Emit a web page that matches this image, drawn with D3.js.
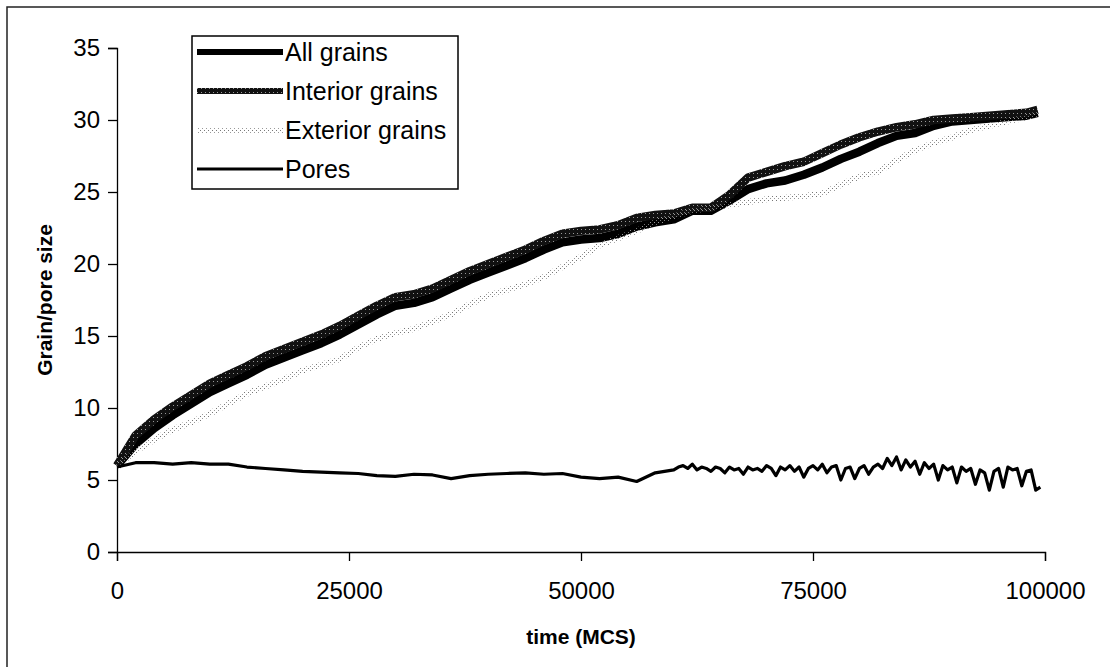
<!DOCTYPE html>
<html>
<head>
<meta charset="utf-8">
<script src="https://cdn.jsdelivr.net/npm/d3@7"></script>
<style>
  body { margin: 0; background: #fff; }
  svg { display: block; font-family: "Liberation Sans", Arial, sans-serif; }
  .axis path, .axis line { stroke: #000; stroke-width: 1.3; }
  .axis text { font-size: 24px; fill: #000; }
  .title { font-size: 21px; font-weight: bold; fill: #000; }
  .legend text { font-size: 25px; fill: #000; }
</style>
</head>
<body>
<div id="chart"></div>
<script>
'use strict';

// sample times (MCS)
const grainTime = d3.range(0, 99000, 2000).concat([99200]);
const poreTime = d3.range(0, 60000, 2000).concat(d3.range(60000, 100000, 500));

// mean sizes
const allGrains = [
  6.0, 7.5, 8.6, 9.5, 10.3, 11.1, 11.7, 12.3, 13.0, 13.5,
  14.0, 14.5, 15.1, 15.8, 16.5, 17.1, 17.3, 17.7, 18.3, 18.9,
  19.4, 19.9, 20.4, 21.0, 21.5, 21.7, 21.8, 22.1, 22.6, 22.9,
  23.1, 23.7, 23.7, 24.4, 25.2, 25.6, 25.8, 26.2, 26.7, 27.3,
  27.8, 28.4, 28.9, 29.1, 29.6, 29.9, 30.0, 30.1, 30.2, 30.3,
  30.5
];
const interiorGrains = [
  6.0, 8.1, 9.2, 10.1, 10.9, 11.7, 12.3, 12.9, 13.6, 14.1,
  14.6, 15.1, 15.7, 16.4, 17.1, 17.7, 17.9, 18.3, 18.9, 19.5,
  20.0, 20.5, 21.0, 21.6, 22.1, 22.3, 22.4, 22.7, 23.2, 23.4,
  23.5, 23.9, 23.9, 24.8, 26.0, 26.4, 26.8, 27.1, 27.7, 28.3,
  28.8, 29.2, 29.5, 29.7, 30.0, 30.1, 30.2, 30.3, 30.4, 30.5,
  30.7
];
const exteriorGrains = [
  6.0, 7.0, 7.8, 8.5, 9.0, 9.6, 10.3, 11.0, 11.5, 12.0,
  12.6, 13.0, 13.4, 14.2, 14.8, 15.2, 15.5, 16.0, 16.5, 17.2,
  17.8, 18.2, 18.6, 19.1, 19.8, 20.5, 21.3, 21.8, 22.3, 22.9,
  23.3, 23.7, 23.9, 24.1, 24.3, 24.5, 24.6, 24.7, 24.9, 25.5,
  26.1, 26.4, 27.2, 27.9, 28.4, 28.8, 29.3, 29.6, 29.9, 30.2,
  30.4
];
const pores = [
  5.9, 6.2, 6.2, 6.1, 6.2, 6.1, 6.1, 5.9, 5.8, 5.7,
  5.6, 5.55, 5.5, 5.45, 5.3, 5.25, 5.4, 5.35, 5.1, 5.3,
  5.4, 5.45, 5.5, 5.4, 5.45, 5.2, 5.1, 5.2, 4.9, 5.5,
  // from 60000 every 500
  5.7, 5.9, 6.0, 5.8, 6.1, 5.7, 5.9, 5.8, 5.6, 5.9,
  5.8, 5.5, 5.9, 5.7, 5.8, 5.4, 5.9, 5.7, 5.8, 5.6,
  6.0, 5.8, 5.3, 5.9, 5.7, 6.0, 5.6, 5.9, 5.2, 5.8,
  6.0, 5.7, 6.1, 5.5, 5.9, 6.0, 5.0, 5.8, 5.9, 5.1,
  5.8, 6.0, 5.4, 5.9, 6.1, 5.8, 6.5, 6.0, 6.6, 5.7,
  6.4, 5.9, 6.3, 5.4, 6.2, 5.8, 6.1, 5.0, 6.0, 5.7,
  5.9, 4.8, 5.9, 5.6, 5.8, 4.7, 5.7, 5.5, 4.3, 5.6,
  5.8, 4.5, 5.9, 5.7, 5.8, 4.6, 5.6, 5.7, 4.3, 4.5
];

const xTicks = [0, 25000, 50000, 75000, 100000];
const yTicks = [0, 5, 10, 15, 20, 25, 30, 35];
const legendLabels = ['All grains', 'Interior grains', 'Exterior grains', 'Pores'];

const width = 1119, height = 667;
const plot = { left: 117, right: 1045, top: 48, bottom: 552 };

const svg = d3.select('#chart').append('svg')
  .attr('width', width)
  .attr('height', height);

svg.append('rect').attr('width', width).attr('height', height).attr('fill', '#fff');

// halftone-like fills for the grey series (the original is a b/w scan)
const defs = svg.append('defs');
const dark = defs.append('pattern')
  .attr('id', 'darkgrey')
  .attr('patternUnits', 'userSpaceOnUse')
  .attr('width', 4).attr('height', 4);
dark.append('rect').attr('width', 4).attr('height', 4).attr('fill', '#111');
dark.append('rect').attr('x', 1).attr('y', 1).attr('width', 1).attr('height', 1).attr('fill', '#999');

const light = defs.append('pattern')
  .attr('id', 'lightgrey')
  .attr('patternUnits', 'userSpaceOnUse')
  .attr('width', 4).attr('height', 4);
light.append('rect').attr('x', 0).attr('y', 0).attr('width', 1).attr('height', 1).attr('fill', '#777');
light.append('rect').attr('x', 2).attr('y', 2).attr('width', 1).attr('height', 1).attr('fill', '#999');

// scanned page frame (top and left edges only)
svg.append('path')
  .attr('d', 'M7,667V7H1110')
  .attr('fill', 'none')
  .attr('stroke', '#222')
  .attr('stroke-width', 1.5);

const x = d3.scaleLinear().domain([0, 100000]).range([plot.left, plot.right]);
const y = d3.scaleLinear().domain([0, 35]).range([plot.bottom, plot.top]);

svg.append('g')
  .attr('class', 'x axis')
  .attr('transform', 'translate(0,' + plot.bottom + ')')
  .call(d3.axisBottom(x).tickValues(xTicks).tickFormat(d3.format('d')).tickSize(9).tickSizeOuter(9).tickPadding(21));

svg.append('g')
  .attr('class', 'y axis')
  .attr('transform', 'translate(' + plot.left + ',0)')
  .call(d3.axisLeft(y).tickValues(yTicks).tickSize(9).tickSizeOuter(9).tickPadding(8));

svg.selectAll('.axis .domain').attr('fill', 'none');

svg.append('text')
  .attr('class', 'title')
  .attr('x', (plot.left + plot.right) / 2)
  .attr('y', 644)
  .attr('text-anchor', 'middle')
  .text('time (MCS)');

svg.append('text')
  .attr('class', 'title')
  .attr('transform', 'translate(52,' + (plot.top + plot.bottom) / 2 + ') rotate(-90)')
  .attr('text-anchor', 'middle')
  .text('Grain/pore size');

const series = [
  { name: legendLabels[0], time: grainTime, values: allGrains, stroke: '#000', width: 8.5 },
  { name: legendLabels[1], time: grainTime, values: interiorGrains, stroke: 'url(#darkgrey)', width: 8.5 },
  { name: legendLabels[2], time: grainTime, values: exteriorGrains, stroke: 'url(#lightgrey)', width: 6 },
  { name: legendLabels[3], time: poreTime, values: pores, stroke: '#000', width: 3.2 }
];

const line = d3.line()
  .x(d => x(d[0]))
  .y(d => y(d[1]));

svg.append('g').selectAll('path.series').data(series).enter()
  .append('path')
  .attr('class', 'series')
  .attr('d', s => line(d3.zip(s.time, s.values)))
  .attr('fill', 'none')
  .attr('stroke', s => s.stroke)
  .attr('stroke-width', s => s.width)
  .attr('stroke-linejoin', 'round');

// legend
const legend = svg.append('g').attr('class', 'legend');
legend.append('rect')
  .attr('x', 192).attr('y', 36)
  .attr('width', 266).attr('height', 153)
  .attr('fill', '#fff')
  .attr('stroke', '#000')
  .attr('stroke-width', 1.5);

const rows = legend.selectAll('g.row').data(series).enter()
  .append('g')
  .attr('class', 'row')
  .attr('transform', (d, i) => 'translate(0,' + (52 + i * 39) + ')');

rows.append('line')
  .attr('x1', 197).attr('x2', 283)
  .attr('stroke', s => s.stroke)
  .attr('stroke-width', s => Math.min(s.width, 6));

rows.append('text')
  .attr('x', 285)
  .attr('dy', '0.36em')
  .text(s => s.name);
</script>
</body>
</html>
